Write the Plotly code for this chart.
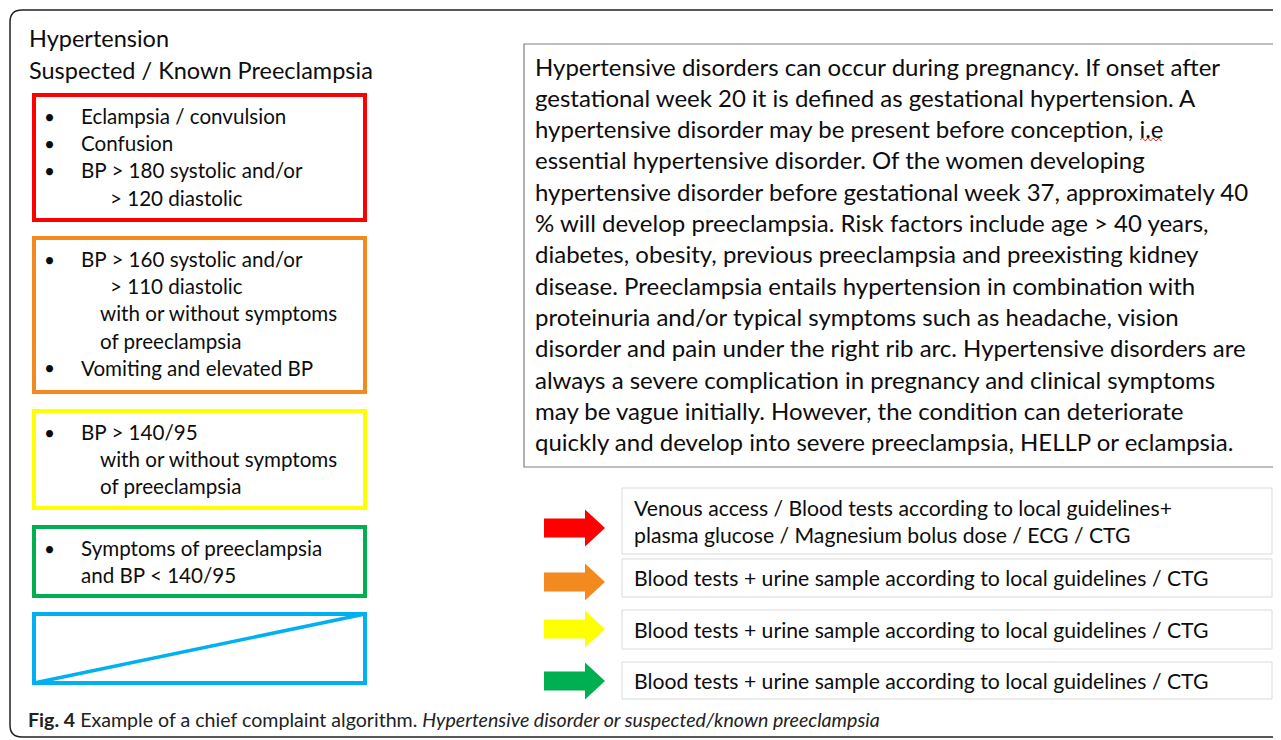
import plotly.graph_objects as go

# ---- content ----
title_lines = ["Hypertension", "Suspected / Known Preeclampsia"]

level_colors = ["#FF0000", "#F28A1F", "#FFFF00", "#00B050", "#00B0F0"]

# text lines inside each coloured box: (bullet?, indent level, text)
box_lines = [
    [(True, 0, "Eclampsia / convulsion"),
     (True, 0, "Confusion"),
     (True, 0, "BP > 180 systolic and/or"),
     (False, 2, "> 120 diastolic")],
    [(True, 0, "BP > 160 systolic and/or"),
     (False, 2, "> 110 diastolic"),
     (False, 1, "with or without symptoms"),
     (False, 1, "of preeclampsia"),
     (True, 0, "Vomiting and elevated BP")],
    [(True, 0, "BP > 140/95"),
     (False, 1, "with or without symptoms"),
     (False, 1, "of preeclampsia")],
    [(True, 0, "Symptoms of preeclampsia"),
     (False, 0, "and BP < 140/95")],
    [],
]

info_lines = [
    "Hypertensive disorders can occur during pregnancy. If onset after",
    "gestational week 20 it is defined as gestational hypertension. A",
    "hypertensive disorder may be present before conception, i.e",
    "essential hypertensive disorder. Of the women developing",
    "hypertensive disorder before gestational week 37, approximately 40",
    "% will develop preeclampsia. Risk factors include age > 40 years,",
    "diabetes, obesity, previous preeclampsia and preexisting kidney",
    "disease. Preeclampsia entails hypertension in combination with",
    "proteinuria and/or typical symptoms such as headache, vision",
    "disorder and pain under the right rib arc. Hypertensive disorders are",
    "always a severe complication in pregnancy and clinical symptoms",
    "may be vague initially. However, the condition can deteriorate",
    "quickly and develop into severe preeclampsia, HELLP or eclampsia.",
]

action_texts = [
    ["Venous access / Blood tests according to local guidelines+",
     "plasma glucose / Magnesium bolus dose / ECG / CTG"],
    ["Blood tests + urine sample according to local guidelines / CTG"],
    ["Blood tests + urine sample according to local guidelines / CTG"],
    ["Blood tests + urine sample according to local guidelines / CTG"],
]

caption_bold = "Fig. 4"
caption_text = "Example of a chief complaint algorithm."
caption_italic = "Hypertensive disorder or suspected/known preeclampsia"

# ---- layout geometry (pixel coordinates) ----
W, H = 1281, 740
OFF = 8  # the page body adds an 8px margin, so the figure starts at (8, 8)
FONT = "Lato, 'Open Sans', sans-serif"
box_x0, box_x1 = 34, 365
box_y = [(95, 220), (238, 392), (411, 508), (527, 596), (614, 683)]
action_y = [(488, 554), (559, 597), (610, 649), (662, 699)]
arrow_cy = [528, 582, 629, 681]

fig = go.Figure()
shapes = []
ann = []


def text(x, y, s, size, **kw):
    ann.append(dict(x=x, y=y, xref="x", yref="y", text=s, showarrow=False,
                    xanchor=kw.pop("xanchor", "left"), yanchor="middle",
                    font=dict(family=FONT, size=size, color="#0d0d0d"), **kw))


# outer rounded frame (right edge runs off the image)
r = 12
shapes.append(dict(type="path", xref="x", yref="y",
                   path=f"M 1300 10 L {10 + r} 10 Q 10 10 10 {10 + r} "
                        f"L 10 {737 - r} Q 10 737 {10 + r} 737 L 1300 737",
                   line=dict(color="#222222", width=1.5)))

# title
text(27, 38, title_lines[0], 23.5)
text(27, 70, title_lines[1], 23.5)

# coloured boxes with their text
indent_x = [79, 98, 108]
for i, (col, (y0, y1)) in enumerate(zip(level_colors, box_y)):
    shapes.append(dict(type="rect", xref="x", yref="y", x0=box_x0, x1=box_x1,
                       y0=y0, y1=y1, line=dict(color=col, width=4)))
    for j, (bullet, lvl, s) in enumerate(box_lines[i]):
        yy = y0 + 21 + 27.2 * j
        if bullet:
            text(42, yy, "•", 19)
        text(indent_x[lvl], yy, s, 20.6)
# crossed-out blue box
shapes.append(dict(type="line", xref="x", yref="y", x0=box_x0, y0=box_y[4][1],
                   x1=box_x1, y1=box_y[4][0], line=dict(color=level_colors[4], width=3.5)))

# info panel
shapes.append(dict(type="rect", xref="x", yref="y", x0=524, x1=1274, y0=44, y1=467,
                   line=dict(color="#7F7F7F", width=1.2)))
for k, s in enumerate(info_lines):
    text(533, 66 + 31.3 * k, s, 24)
# red spell-check squiggle under "i.e"
sq = "M 1140 140"
for n in range(8):
    sq += f" L {1142.5 + n * 2.7:.1f} {138 if n % 2 == 0 else 141}"
shapes.append(dict(type="path", xref="x", yref="y", path=sq,
                   line=dict(color="#E8332A", width=1)))

# arrows and action boxes
for i, ((y0, y1), cy) in enumerate(zip(action_y, arrow_cy)):
    col = level_colors[i]
    xs, xn, xt = 544, 585, 605
    sh, hh = 9.5, 18.5
    shapes.append(dict(type="path", xref="x", yref="y",
                       path=f"M {xs} {cy - sh} L {xn} {cy - sh} L {xn} {cy - hh} L {xt} {cy} "
                            f"L {xn} {cy + hh} L {xn} {cy + sh} L {xs} {cy + sh} Z",
                       fillcolor=col, line=dict(width=0)))
    shapes.append(dict(type="rect", xref="x", yref="y", x0=622, x1=1272, y0=y0, y1=y1,
                       line=dict(color="#DADADA", width=1)))
    lines = action_texts[i]
    mid = (y0 + y1) / 2
    for k, s in enumerate(lines):
        yy = mid + (k - (len(lines) - 1) / 2) * 27
        text(632, yy, s, 21.2)

# caption
ann.append(dict(x=26, y=719, xref="x", yref="y", showarrow=False, xanchor="left",
                yanchor="middle",
                text=f"<b>{caption_bold}</b> {caption_text} <i>{caption_italic}</i>",
                font=dict(family=FONT, size=19.6, color="#222222")))

fig.update_layout(
    width=W - OFF, height=H - OFF, margin=dict(l=0, r=0, t=0, b=0),
    paper_bgcolor="white", plot_bgcolor="white",
    xaxis=dict(range=[OFF, W], visible=False, fixedrange=True),
    yaxis=dict(range=[H, OFF], visible=False, fixedrange=True),
    shapes=shapes, annotations=ann, showlegend=False,
)

fig.write_html("out.html")
